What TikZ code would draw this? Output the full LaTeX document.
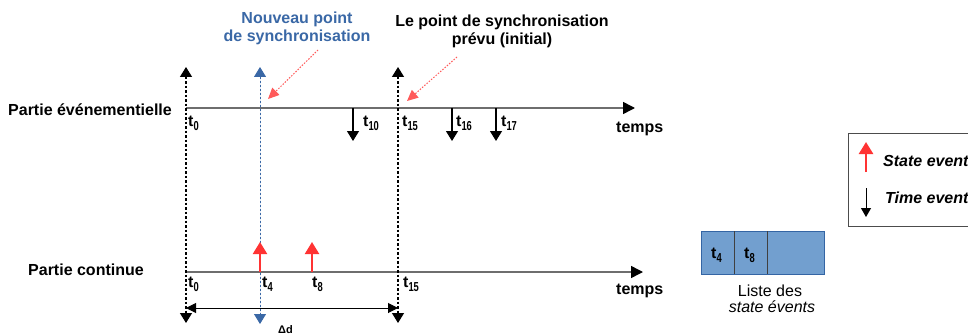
\documentclass[tikz,border=0pt]{standalone}
\usepackage{fontspec}
\usepackage{graphicx}
\setmainfont{Liberation Sans}
\usetikzlibrary{arrows.meta}
\definecolor{blueT}{RGB}{58,104,166}
\definecolor{boxfill}{RGB}{114,159,207}
\definecolor{boxdraw}{RGB}{52,101,164}
\definecolor{redA}{RGB}{255,51,51}
\definecolor{redL}{RGB}{255,90,90}
\definecolor{axisgrey}{RGB}{110,110,110}
\newcommand{\tsub}[2]{\textbf{#1}\raisebox{-4pt}{\scalebox{0.72}[1]{\fontsize{13}{13}\selectfont\bfseries #2}}}
\begin{document}
\begin{tikzpicture}[x=1pt,y=-1pt,
  lbl/.style={font=\fontsize{16}{18}\selectfont\bfseries, inner sep=0pt},
  reg/.style={font=\fontsize{16}{18}\selectfont, inner sep=0pt},
  tl/.style={font=\fontsize{16}{18}\selectfont, inner sep=0pt, anchor=base west},
  axisline/.style={draw=axisgrey, line width=1.5pt, -{Triangle[width=12pt,length=12pt,color=black]}},
  syncline/.style={line width=1.3pt, dash pattern=on 2.5pt off 2pt, {Triangle[width=12pt,length=10pt]}-{Triangle[width=12pt,length=10pt]}},
  timeev/.style={line width=1.2pt, -{Triangle[width=12pt,length=10pt]}},
  stateev/.style={draw=redA, line width=2.2pt, -{Triangle[width=14pt,length=12pt,color=redA]}},
  pointer/.style={draw=redL, line width=1pt, dash pattern=on 1.5pt off 1.5pt, -{Triangle[width=10pt,length=11pt,color=redL]}}
]
\useasboundingbox (0,0) rectangle (968,334);

% axes
\coordinate (a1s) at (186,108); \coordinate (a1e) at (635,108);
\coordinate (a2s) at (186,272); \coordinate (a2e) at (643,272);
\draw[axisline] (a1s) -- (a1e);
\draw[axisline] (a2s) -- (a2e);

% sync lines
\coordinate (s0t) at (186,67); \coordinate (s0b) at (186,323);
\coordinate (s15t) at (398,67); \coordinate (s15b) at (398,323);
\coordinate (snt) at (260,67); \coordinate (snb) at (260,324);
\draw[syncline] (s0t) -- (s0b);
\draw[syncline] (s15t) -- (s15b);
\draw[syncline, draw=blueT, fill=blueT, line width=0.9pt, dash pattern=on 2pt off 2pt] (snt) -- (snb);

% time events
\coordinate (e10a) at (353,108); \coordinate (e10b) at (353,141);
\coordinate (e16a) at (452,108); \coordinate (e16b) at (452,141);
\coordinate (e17a) at (496,108); \coordinate (e17b) at (496,141);
\draw[timeev] (e10a) -- (e10b);
\draw[timeev] (e16a) -- (e16b);
\draw[timeev] (e17a) -- (e17b);

% state events
\coordinate (e4a) at (260,272); \coordinate (e4b) at (260,242);
\coordinate (e8a) at (312,272); \coordinate (e8b) at (312,242);
\draw[stateev] (e4a) -- (e4b);
\draw[stateev] (e8a) -- (e8b);

% delta d
\coordinate (d0) at (186,308); \coordinate (d1) at (398,308);
\draw[line width=1pt, {Triangle[width=10pt,length=10pt]}-{Triangle[width=10pt,length=10pt]}] (d0) -- (d1);
\node[tl, font=\fontsize{11}{11}\selectfont\bfseries] (dd) at (278,333) {Δd};

% row labels
\node[lbl, anchor=base west] (pe) at (8,115) {Partie événementielle};
\node[lbl, anchor=base west] (pc) at (28,275) {Partie continue};
\node[lbl, anchor=base west] (tp1) at (616,132) {temps};
\node[lbl, anchor=base west] (tp2) at (616,294) {temps};

% t labels
\node[tl] (lt0a) at (188,127) {\tsub{t}{0}};
\node[tl] (lt10) at (363,127) {\tsub{t}{10}};
\node[tl] (lt15a) at (402,127) {\tsub{t}{15}};
\node[tl] (lt16) at (456,127) {\tsub{t}{16}};
\node[tl] (lt17) at (501,127) {\tsub{t}{17}};
\node[tl] (lt0b) at (188,287) {\tsub{t}{0}};
\node[tl] (lt4) at (262,287) {\tsub{t}{4}};
\node[tl] (lt8) at (312,287) {\tsub{t}{8}};
\node[tl] (lt15b) at (403,287) {\tsub{t}{15}};

% titles
\node[lbl, text=blueT, anchor=base] (n1) at (297,24) {Nouveau point};
\node[lbl, text=blueT, anchor=base] (n2) at (297,42) {de synchronisation};
\node[lbl, anchor=base] (p1) at (502,27) {Le point de synchronisation};
\node[lbl, anchor=base] (p2) at (502,45) {prévu (initial)};

% pointers
\coordinate (pa0) at (318,50); \coordinate (pa1) at (268,99);
\coordinate (pb0) at (457,57); \coordinate (pb1) at (407,101);
\draw[pointer] (pa0) -- (pa1);
\draw[pointer] (pb0) -- (pb1);

% list of state events
\draw[draw=boxdraw, fill=boxfill, line width=0.8pt] (701,231) rectangle (824,274);
\coordinate (dv1t) at (734,231); \coordinate (dv1b) at (734,274);
\coordinate (dv2t) at (767,231); \coordinate (dv2b) at (767,274);
\draw[line width=1pt, draw=black!75] (dv1t) -- (dv1b);
\draw[line width=1pt, draw=black!75] (dv2t) -- (dv2b);
\node[tl] (bt4) at (711,258) {\tsub{t}{4}};
\node[tl] (bt8) at (744,258) {\tsub{t}{8}};
\node[reg, anchor=base] (ls1) at (770,296) {Liste des};
\node[reg, anchor=base] (ls2) at (772,312) {\itshape state évents};

% legend
\draw[draw=black!70, line width=1pt] (848,133) rectangle (980,226);
\coordinate (lr0) at (866,172); \coordinate (lr1) at (866,142);
\draw[stateev, line width=2.5pt] (lr0) -- (lr1);
\coordinate (lb0) at (866,188); \coordinate (lb1) at (866,217);
\draw[line width=1pt, -{Triangle[width=10pt,length=9pt]}] (lb0) -- (lb1);
\node[lbl, anchor=base west, font=\fontsize{16}{18}\selectfont\bfseries\itshape] (lg1) at (883,166) {State event};
\node[lbl, anchor=base west, font=\fontsize{16}{18}\selectfont\bfseries\itshape] (lg2) at (885,203) {Time event};
\end{tikzpicture}
\end{document}
